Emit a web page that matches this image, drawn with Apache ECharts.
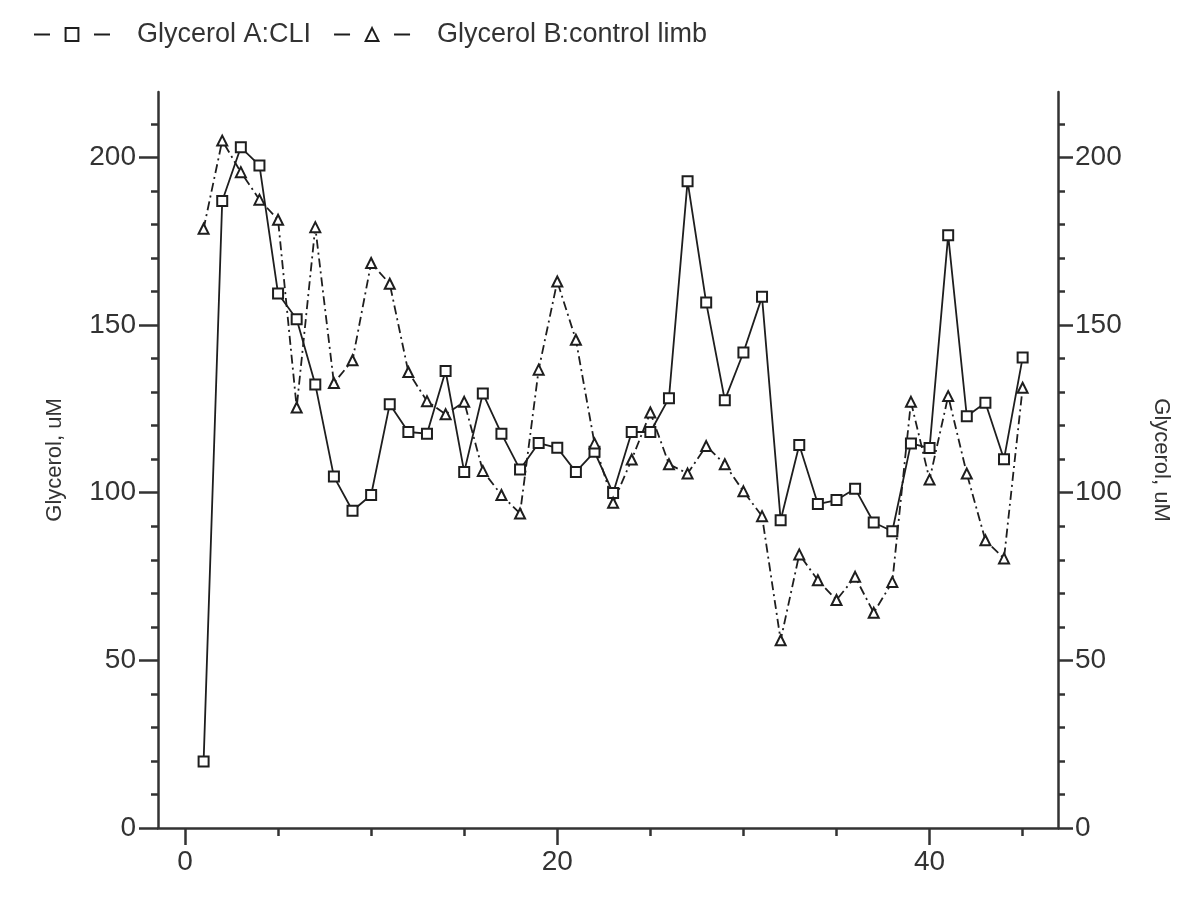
<!DOCTYPE html>
<html>
<head>
<meta charset="utf-8">
<script src="https://cdn.jsdelivr.net/npm/echarts@6/dist/echarts.min.js"></script>
<style>html,body{margin:0;padding:0;background:#fff}#c{width:1200px;height:900px}</style>
</head>
<body>
<div id="c"></div>
<script>
const xValues = [1,2,3,4,5,6,7,8,9,10,11,12,13,14,15,16,17,18,19,20,21,22,23,24,25,26,27,28,29,30,31,32,33,34,35,36,37,38,39,40,41,42,43,44,45];
const glycerolA = [19.8,187,203,197.6,159.4,151.7,132.3,104.8,94.6,99.3,126.4,118.1,117.6,136.3,106.2,129.6,117.6,106.9,114.8,113.4,106.2,112.2,99.9,118.1,118.1,128.2,192.9,156.7,127.6,141.8,158.4,91.8,114.2,96.6,97.8,101.2,91.1,88.5,114.7,113.3,176.8,122.8,126.8,110.0,140.3];
const glycerolB = [178.7,205,195.6,187.4,181.4,125.4,179.2,132.7,139.5,168.5,162.3,136.0,127.3,123.4,127.1,106.5,99.3,93.8,136.7,163.0,145.6,114.7,97.0,109.9,123.9,108.5,105.7,113.9,108.5,100.4,93.0,56.0,81.6,73.9,68.0,74.9,64.2,73.4,127.1,103.9,128.8,105.7,85.8,80.4,131.3];
const seriesNames = ['Glycerol A:CLI', 'Glycerol B:control limb'];
const yMajorTicks = [0,50,100,150,200];
const yMinorTicks = [0,10,20,30,40,50,60,70,80,90,100,110,120,130,140,150,160,170,180,190,200,210];
const xMajorTicks = [0,20,40];
const xMinorTicks = [5,10,15,25,30,35,45];

const ink = '#1e1e1e';
const axisCol = '#333';
const font = '"Liberation Sans", Arial, sans-serif';
const X_MIN = -1.45, X_MAX = 46.9, Y_MIN = 0, Y_MAX = 219.5;

function pairs(ys){ return xValues.map((x,i)=>[x, ys[i]]); }

function yAxisDef(pos, major, showName){
  const left = pos==='left';
  const a = {
    type:'value', position:pos, min:Y_MIN, max:Y_MAX,
    splitLine:{show:false},
    axisLine:{show:major, onZero:false, lineStyle:{color:axisCol, width:2.5}},
    axisTick:{show:true, inside:false, length: major?(left?19:15):7, lineStyle:{color:axisCol, width:2.5},
      customValues: major ? yMajorTicks : yMinorTicks},
    axisLabel:{show:major, customValues: yMajorTicks, color:axisCol, fontFamily:font, fontSize:28,
      margin: left?22:17}
  };
  if (major && showName) {
    a.name = 'Glycerol, uM';
    a.nameLocation = 'middle';
    a.nameRotate = left ? 90 : -90;
    a.nameGap = 92;
    a.nameTextStyle = {color:axisCol, fontFamily:font, fontSize:22};
  }
  return a;
}
function xAxisDef(major){
  return {
    type:'value', position:'bottom', min:X_MIN, max:X_MAX,
    splitLine:{show:false},
    axisLine:{show:major, onZero:false, lineStyle:{color:axisCol, width:2.5}},
    axisTick:{show:true, length: major?17:8, lineStyle:{color:axisCol, width:2.5},
      customValues: major ? xMajorTicks : xMinorTicks},
    axisLabel:{show:major, customValues: xMajorTicks, color:axisCol, fontFamily:font, fontSize:28, margin:20}
  };
}

const chart = echarts.init(document.getElementById('c'), null, {renderer:'canvas'});
chart.setOption({
  animation:false,
  backgroundColor:'#fff',
  grid:{left:158, right:142, top:92, bottom:72, containLabel:false},
  legend:{
    left:28, top:16, itemWidth:76, itemHeight:16, itemGap:22,
    data:seriesNames,
    lineStyle:{type:[16,44], width:2, color:ink},
    textStyle:{color:axisCol, fontFamily:font, fontSize:27, padding:[0,0,0,22]}
  },
  xAxis:[xAxisDef(true), xAxisDef(false)],
  yAxis:[yAxisDef('left',true,true), yAxisDef('left',false,false), yAxisDef('right',true,true), yAxisDef('right',false,false)],
  series:[
    {name:seriesNames[0], type:'line', xAxisIndex:0, yAxisIndex:0, data:pairs(glycerolA),
      symbol:'emptyRect', symbolSize:10, showSymbol:true, showAllSymbol:true,
      itemStyle:{color:ink, borderColor:ink, borderWidth:2},
      lineStyle:{color:ink, width:1.8, type:'solid'}},
    {name:seriesNames[1], type:'line', xAxisIndex:0, yAxisIndex:0, data:pairs(glycerolB),
      symbol:'emptyTriangle', symbolSize:10, showSymbol:true, showAllSymbol:true,
      itemStyle:{color:ink, borderColor:ink, borderWidth:1.8},
      lineStyle:{color:ink, width:1.8, type:[9,4,2,4]}}
  ]
});
</script>
</body>
</html>
